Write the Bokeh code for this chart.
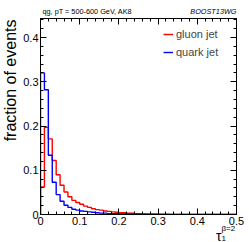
import numpy as np
from bokeh.plotting import figure
from bokeh.models import (Range1d, LinearAxis, Label, Legend, LegendItem,
                          SingleIntervalTicker)
from bokeh.embed import file_html
from bokeh.resources import INLINE

# ---- data ----
bin_edges = [round(0.01 * i, 2) for i in range(51)]
gluon = [0.062, 0.197, 0.171, 0.122, 0.090, 0.066, 0.051, 0.040, 0.032, 0.027,
         0.023, 0.019, 0.016, 0.013, 0.011, 0.010, 0.008, 0.007, 0.006, 0.005,
         0.004, 0.004, 0.003, 0.003, 0.002, 0.002, 0.0015, 0.001, 0.001, 0.001,
         0.0007, 0.0005, 0.0004, 0.0003, 0.0002, 0.0002, 0.0001, 0.0001, 0.0001, 0.0,
         0.0, 0.0, 0.0, 0.0, 0.0, 0.0, 0.0, 0.0, 0.0, 0.0]
quark = [0.320, 0.282, 0.134, 0.073, 0.045, 0.030, 0.021, 0.016, 0.012, 0.010,
         0.008, 0.007, 0.006, 0.005, 0.004, 0.003, 0.003, 0.002, 0.002, 0.002,
         0.0015, 0.001, 0.001, 0.001, 0.0007, 0.0005, 0.0004, 0.0003, 0.0002, 0.0002,
         0.0001, 0.0001, 0.0, 0.0, 0.0, 0.0, 0.0, 0.0, 0.0, 0.0,
         0.0, 0.0, 0.0, 0.0, 0.0, 0.0, 0.0, 0.0, 0.0, 0.0]
x_max = 0.5
y_max = 0.443

FONT = "Liberation Sans"
FW, FH = 196, 196

p = figure(frame_width=FW, frame_height=FH,
           min_border_left=40, min_border_right=13, min_border_top=14, min_border_bottom=32,
           x_range=Range1d(0, x_max), y_range=Range1d(0, y_max),
           output_backend="svg", toolbar_location=None, tools="")
p.grid.visible = False
p.outline_line_color = "black"
p.outline_line_width = 1
p.background_fill_color = "white"
p.border_fill_color = "white"


def style_axis(ax, labels=True):
    ax.axis_line_color = "black"
    ax.major_tick_in = 6
    ax.major_tick_out = 0
    ax.minor_tick_in = 3
    ax.minor_tick_out = 0
    ax.major_tick_line_color = "black"
    ax.minor_tick_line_color = "black"
    ax.major_label_standoff = 2
    ax.major_label_text_font = FONT
    ax.major_label_text_font_size = "11px"
    ax.major_label_text_color = "black"
    if not labels:
        ax.major_label_standoff = 0
        ax.major_label_text_font_size = "0px"
        ax.major_label_text_color = None


p.xaxis.ticker = SingleIntervalTicker(interval=0.1, num_minor_ticks=5)
p.yaxis.ticker = SingleIntervalTicker(interval=0.1, num_minor_ticks=5)
style_axis(p.xaxis[0])
style_axis(p.yaxis[0])

top_ax = LinearAxis(ticker=SingleIntervalTicker(interval=0.1, num_minor_ticks=5))
right_ax = LinearAxis(ticker=SingleIntervalTicker(interval=0.1, num_minor_ticks=5))
style_axis(top_ax, labels=False)
style_axis(right_ax, labels=False)
p.add_layout(top_ax, "above")
p.add_layout(right_ax, "right")


def step_xy(vals):
    xs = [bin_edges[0]]
    ys = [0.0]
    for i, v in enumerate(vals):
        xs += [bin_edges[i], bin_edges[i + 1]]
        ys += [v, v]
    return xs, ys


gx, gy = step_xy(gluon)
qx, qy = step_xy(quark)
r_g = p.line(gx, gy, line_color="#ff0000", line_width=1.4)
r_q = p.line(qx, qy, line_color="#0000ff", line_width=1.4)

legend = Legend(items=[LegendItem(label="gluon jet", renderers=[r_g]),
                       LegendItem(label="quark jet", renderers=[r_q])],
                location=(123, 154), padding=0, spacing=2, margin=0,
                glyph_width=10, glyph_height=16, label_height=16, label_standoff=3,
                label_text_font=FONT, label_text_font_size="11px",
                border_line_color=None, background_fill_alpha=0)
p.add_layout(legend)

pxx = x_max / FW
pxy = y_max / FH

p.add_layout(Label(x=2 * pxx, y=y_max + 3 * pxy, text="qg, pT = 500-600 GeV, AK8",
                   text_font=FONT, text_font_size="7.3px", text_baseline="bottom",
                   text_align="left", text_color="black"), "above")
p.add_layout(Label(x=x_max, y=y_max + 3 * pxy, text="BOOST13WG",
                   text_font=FONT, text_font_size="7.3px", text_font_style="italic",
                   text_baseline="bottom", text_align="right", text_color="black"), "above")
p.add_layout(Label(x=-30 * pxx, y=y_max - 1 * pxy, text="fraction of events",
                   angle=np.pi / 2, text_font=FONT, text_font_size="16px",
                   text_baseline="middle", text_align="right", text_color="black"), "left")
p.add_layout(Label(x=181 * pxx, y=-21 * pxy, text="τ",
                   text_font=FONT, text_font_size="14px", text_baseline="alphabetic",
                   text_align="right", text_color="black"), "below")
p.add_layout(Label(x=181 * pxx, y=-24 * pxy, text="1",
                   text_font=FONT, text_font_size="8px", text_baseline="alphabetic",
                   text_align="left", text_color="black"), "below")
p.add_layout(Label(x=181 * pxx, y=-14 * pxy, text="β=2",
                   text_font=FONT, text_font_size="8px", text_baseline="alphabetic",
                   text_align="left", text_color="black"), "below")

open("out.html", "w").write(file_html(p, INLINE))
